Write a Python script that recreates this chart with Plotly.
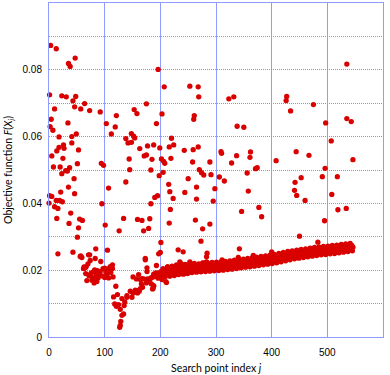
import plotly.graph_objects as go

# search points lying far above the best-so-far band
scatter_j = [3, 13, 35, 38, 47, 1, 23, 31, 48, 43, 64, 10, 46, 57, 73, 92, 121, 4, 34, 2, 103, 119,
             196, 207, 253, 268, 269, 323, 332, 175, 153, 158, 203, 261, 260, 193, 338, 350,
             535, 427, 426, 434, 475, 497, 535, 543,
             7, 18, 41, 49, 5, 14, 18, 26, 27, 41, 25, 53, 8, 20, 30, 33, 37, 23, 51, 45, 35, 21, 46,
             1, 5, 13, 19, 24, 0, 10, 16, 39, 14, 36, 55, 60, 53, 51, 16, 56, 59, 73, 84, 83,
             94, 98, 95, 107, 101, 105, 126, 134, 138, 112, 138, 142, 144, 145,
             148, 152, 154, 148, 220, 163, 177, 188, 199, 216, 224, 243, 259, 268, 309, 310, 337, 362,
             361, 171, 175, 185, 202, 206, 208, 219, 258, 289, 328, 183, 205, 198, 270, 274, 278, 291,
             306, 315, 356, 371, 374, 250, 215, 265, 298, 217, 244, 358, 195, 190, 223, 265, 295, 183,
             218, 346, 377, 159, 167, 181, 263, 216, 289, 170, 179, 276, 273, 201, 232, 241, 197, 200,
             284, 283, 342, 173,
             507, 444, 467, 408, 546, 496, 453, 491, 518, 442, 441, 445, 508, 460, 519, 534, 382, 495,
             450, 483, 400,
             283, 340, 311, 367, 193, 213, 235, 238, 253, 276, 283]
scatter_f = [0.0873, 0.0863, 0.0819, 0.0810, 0.0835, 0.0725, 0.0722, 0.0719, 0.0720, 0.0707, 0.0699,
             0.0683, 0.0689, 0.0683, 0.0678, 0.0674, 0.0663, 0.0652, 0.0641, 0.0630, 0.0639, 0.0629,
             0.0801, 0.0749, 0.0751, 0.0749, 0.0719, 0.0713, 0.0719, 0.0698, 0.0681, 0.0669, 0.0668,
             0.0663, 0.0652, 0.0639, 0.0631, 0.0628,
             0.0817, 0.0720, 0.0708, 0.0677, 0.0696, 0.0641, 0.0654, 0.0645,
             0.0619, 0.0599, 0.0600, 0.0608, 0.0542, 0.0557, 0.0568, 0.0575, 0.0565, 0.0581, 0.0535,
             0.0560, 0.0509, 0.0509, 0.0498, 0.0497, 0.0507, 0.0489, 0.0519, 0.0474, 0.0449, 0.0434,
             0.0429, 0.0423, 0.0421, 0.0409, 0.0409, 0.0405, 0.0401, 0.0390, 0.0385, 0.0371, 0.0355,
             0.0340, 0.0353, 0.0349, 0.0327, 0.0299, 0.0249, 0.0241, 0.0238, 0.0246, 0.0264, 0.0235,
             0.0520, 0.0514, 0.0399, 0.0446, 0.0335, 0.0260, 0.0318, 0.0355, 0.0464, 0.0608, 0.0594,
             0.0581, 0.0533, 0.0501,
             0.0609, 0.0601, 0.0596, 0.0583, 0.0595, 0.0564, 0.0572, 0.0575, 0.0566, 0.0569, 0.0575,
             0.0559, 0.0561, 0.0569, 0.0555, 0.0550, 0.0543, 0.0554, 0.0538, 0.0542, 0.0545, 0.0532,
             0.0533, 0.0526, 0.0520, 0.0535, 0.0524, 0.0524, 0.0521, 0.0500, 0.0493, 0.0483, 0.0501,
             0.0492, 0.0485, 0.0486, 0.0479, 0.0467, 0.0491, 0.0504, 0.0507, 0.0474, 0.0457, 0.0449,
             0.0444, 0.0435, 0.0433, 0.0437, 0.0423, 0.0418, 0.0415, 0.0413, 0.0407, 0.0399, 0.0382,
             0.0376, 0.0388, 0.0352, 0.0349, 0.0354, 0.0350, 0.0341, 0.0338, 0.0318, 0.0325, 0.0324,
             0.0287, 0.0283, 0.0261, 0.0255, 0.0249, 0.0253, 0.0251, 0.0240, 0.0264, 0.0235,
             0.0587, 0.0555, 0.0544, 0.0528, 0.0531, 0.0505, 0.0477, 0.0480, 0.0480, 0.0463, 0.0439,
             0.0424, 0.0427, 0.0409, 0.0381, 0.0385, 0.0360, 0.0348, 0.0302, 0.0284, 0.0255,
             0.0225, 0.0238, 0.0231, 0.0244, 0.0214, 0.0210, 0.0225, 0.0219, 0.0225, 0.0222, 0.0223]

# the early descent and the dip around j = 130
early_j = [43, 57, 71, 74, 93, 70, 67, 63, 62, 65, 82, 80, 76, 74, 79, 83, 81, 86, 88, 68, 90, 92, 97,
           100, 106, 109, 114, 114, 111, 104, 100, 107, 115, 120, 116, 123, 118, 121, 125, 131, 136,
           140, 140, 146, 149, 151, 155, 128, 135, 134, 131, 129, 128, 127, 151, 157, 161, 164, 167,
           170, 166, 168, 164, 160, 159, 162, 175, 177, 183, 184, 187, 188, 176, 173, 176, 181, 188,
           186, 192, 203, 206, 210, 211, 72, 77, 85, 95, 102, 110, 87, 66]
early_f = [0.0254, 0.0243, 0.0246, 0.0229, 0.0226, 0.0219, 0.0211, 0.0210, 0.0205, 0.0207, 0.0201,
           0.0196, 0.0192, 0.0187, 0.0178, 0.0172, 0.0162, 0.0166, 0.0177, 0.0169, 0.0189, 0.0196,
           0.0205, 0.0206, 0.0204, 0.0199, 0.0205, 0.0216, 0.0193, 0.0187, 0.0178, 0.0177, 0.0180,
           0.0152, 0.0120, 0.0127, 0.0099, 0.0092, 0.0097, 0.0115, 0.0105, 0.0124, 0.0119, 0.0137,
           0.0119, 0.0132, 0.0140, 0.0083, 0.0094, 0.0069, 0.0065, 0.0047, 0.0035, 0.0029, 0.0180,
           0.0174, 0.0187, 0.0172, 0.0175, 0.0174, 0.0159, 0.0149, 0.0145, 0.0139, 0.0132, 0.0137,
           0.0162, 0.0174, 0.0177, 0.0159, 0.0145, 0.0152, 0.0207, 0.0231, 0.0196, 0.0172, 0.0154,
           0.0144, 0.0184, 0.0172, 0.0189, 0.0166, 0.0163, 0.0183, 0.0170, 0.0185, 0.0183, 0.0195,
           0.0211, 0.0199, 0.0190]

# slowly rising dense band, j = 186 ... 546 (every second point)
band_j = list(range(186, 548, 2))
band_f = [0.0179, 0.0188, 0.0181, 0.0192, 0.0185, 0.0176, 0.0193, 0.0186, 0.0197, 0.0189,
          0.0183, 0.0199, 0.0192, 0.0187, 0.0203, 0.0194, 0.0185, 0.0200, 0.0191, 0.0206,
          0.0195, 0.0188, 0.0209, 0.0199, 0.0193, 0.0214, 0.0202, 0.0196, 0.0207, 0.0190,
          0.0210, 0.0199, 0.0205, 0.0194, 0.0212, 0.0201, 0.0208, 0.0197, 0.0215, 0.0203,
          0.0199, 0.0210, 0.0204, 0.0198, 0.0213, 0.0206, 0.0201, 0.0211, 0.0203, 0.0208,
          0.0202, 0.0212, 0.0206, 0.0215, 0.0204, 0.0209, 0.0213, 0.0205, 0.0211, 0.0216,
          0.0207, 0.0214, 0.0209, 0.0218, 0.0211, 0.0206, 0.0215, 0.0212, 0.0219, 0.0208,
          0.0216, 0.0211, 0.0220, 0.0214, 0.0209, 0.0222, 0.0216, 0.0213, 0.0224, 0.0218,
          0.0214, 0.0225, 0.0219, 0.0216, 0.0227, 0.0221, 0.0217, 0.0226, 0.0220, 0.0229,
          0.0222, 0.0218, 0.0230, 0.0225, 0.0221, 0.0232, 0.0226, 0.0223, 0.0234, 0.0228,
          0.0224, 0.0236, 0.0229, 0.0226, 0.0238, 0.0231, 0.0227, 0.0237, 0.0233, 0.0229,
          0.0240, 0.0235, 0.0231, 0.0242, 0.0236, 0.0233, 0.0244, 0.0238, 0.0235, 0.0246,
          0.0240, 0.0237, 0.0248, 0.0243, 0.0239, 0.0250, 0.0245, 0.0241, 0.0252, 0.0246,
          0.0243, 0.0254, 0.0248, 0.0245, 0.0256, 0.0250, 0.0247, 0.0257, 0.0252, 0.0248,
          0.0259, 0.0253, 0.0249, 0.0260, 0.0255, 0.0251, 0.0261, 0.0256, 0.0252, 0.0262,
          0.0257, 0.0253, 0.0264, 0.0258, 0.0255, 0.0265, 0.0260, 0.0256, 0.0266, 0.0261,
          0.0257, 0.0267, 0.0262, 0.0258, 0.0268, 0.0263, 0.0259, 0.0269, 0.0264, 0.0260,
          0.0270, 0.0265, 0.0262, 0.0272, 0.0267, 0.0263, 0.0273, 0.0268, 0.0265, 0.0274, 0.0269]

# band points with the wider spread, j = 201 ... 545 (every fourth point)
band_edge_j = list(range(201, 549, 4))
band_edge_f = [0.0178, 0.0205, 0.0181, 0.0210, 0.0182, 0.0212, 0.0184, 0.0216, 0.0187, 0.0218,
               0.0188, 0.0217, 0.0190, 0.0219, 0.0193, 0.0220, 0.0194, 0.0219, 0.0195, 0.0221,
               0.0196, 0.0222, 0.0197, 0.0223, 0.0198, 0.0224, 0.0199, 0.0225, 0.0200, 0.0226,
               0.0202, 0.0228, 0.0203, 0.0230, 0.0205, 0.0232, 0.0207, 0.0233, 0.0209, 0.0235,
               0.0210, 0.0237, 0.0212, 0.0239, 0.0214, 0.0241, 0.0216, 0.0243, 0.0218, 0.0245,
               0.0220, 0.0247, 0.0222, 0.0250, 0.0225, 0.0253, 0.0228, 0.0256, 0.0231, 0.0258,
               0.0234, 0.0260, 0.0236, 0.0262, 0.0238, 0.0264, 0.0240, 0.0266, 0.0242, 0.0268,
               0.0244, 0.0270, 0.0246, 0.0271, 0.0247, 0.0272, 0.0249, 0.0274, 0.0250, 0.0275,
               0.0252, 0.0277, 0.0254, 0.0279, 0.0256, 0.0280, 0.0258]

x_ticks = [0, 100, 200, 300, 400, 500, 600]
y_ticks = [0, 0.02, 0.04, 0.06, 0.08, 0.1]

fig = go.Figure()
fig.add_trace(
    go.Scatter(
        x=early_j + band_j + band_edge_j + scatter_j,
        y=early_f + band_f + band_edge_f + scatter_f,
        mode="markers",
        marker=dict(color="#d90000", size=5.3, line=dict(width=0)),
        cliponaxis=False,
        showlegend=False,
    )
)

grid_blue = "#8e9dff"
dot_blue = "#7f92ff"
fig.update_xaxes(
    range=[0, 600],
    tickvals=x_ticks,
    showgrid=True,
    gridcolor=grid_blue,
    gridwidth=1,
    zeroline=False,
    showline=True,
    mirror=True,
    linecolor=grid_blue,
    linewidth=1,
    ticks="",
    ticklabelstandoff=6,
    automargin=False,
    tickfont=dict(family="Liberation Sans", size=10, color="#000000"),
)
fig.update_yaxes(
    range=[0, 0.1],
    tickvals=y_ticks,
    showgrid=True,
    gridcolor=dot_blue,
    griddash="1px,1px",
    gridwidth=0.8,
    minor=dict(dtick=0.01, showgrid=True, gridcolor=dot_blue, griddash="1px,1px", gridwidth=0.8),
    zeroline=False,
    showline=True,
    mirror=True,
    linecolor=grid_blue,
    linewidth=1,
    ticks="",
    ticklabelstandoff=4,
    automargin=False,
    tickfont=dict(family="Liberation Sans", size=10, color="#000000"),
)

fig.update_layout(
    width=390,
    height=375,
    margin=dict(l=49, r=7, t=3, b=38, autoexpand=False),
    plot_bgcolor="white",
    paper_bgcolor="white",
    font=dict(family="Lato", color="#000000"),
    annotations=[
        dict(
            text="Search point index <i>j</i>",
            xref="paper", yref="paper", x=0.5, y=-0.092,
            xanchor="center", yanchor="middle", showarrow=False,
            font=dict(family="Lato", size=10.5),
        ),
        dict(
            text="Objective function <i>F</i>(<i>X<sub>j</sub></i>)",
            xref="paper", yref="paper", x=-0.12, y=0.5,
            xanchor="center", yanchor="middle", showarrow=False, textangle=-90,
            font=dict(family="Lato", size=10.5),
        ),
    ],
)

# drop the page's default body margin so the figure fills the window exactly
fig.write_html(
    "out.html",
    config={"displayModeBar": False},
    post_script="document.body.style.margin = '0';",
)
